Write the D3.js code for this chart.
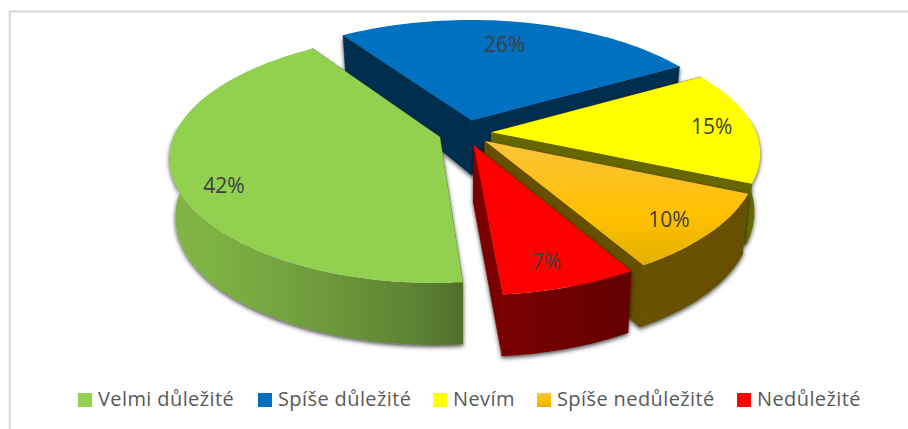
<!DOCTYPE html>
<html><head><meta charset="utf-8">
<script src="https://cdnjs.cloudflare.com/ajax/libs/d3/7.8.5/d3.min.js"></script>
<style>html,body{margin:0;background:#fff}svg{display:block}</style>
</head><body><svg id="c" width="908" height="429"></svg>
<script>
const categories = ["Velmi důležité","Spíše důležité","Nevím","Spíše nedůležité","Nedůležité"];
const values = [42,26,15,10,7];
const topColors = ["#92d050","#0070c0","#ffff00","url(#oTop)","#ff0000"];
const wallColors = ["url(#gWall)","#00365f","#6b6b00","url(#oWall)","url(#rWall)"];
const edgeColors = ["#4f6f2b","#002d4f","#666600","#665000","#7a0000"];
const explode = [0.10,0.113,0.10,0.10,0.105];
const labelT = [0.453,0.48,0.50,0.533,0.56];
const labelR = [0.845,0.75,0.84,0.845,0.84];
const legendX = [78,258,433,537,737];
const drawOrder = [1,2,3,0,4];
const firstAngle = 175;

const svg = d3.select("#c");
const defs = svg.append("defs");
function grad(id,x2,y2,stops){
  const g=defs.append("linearGradient").attr("id",id).attr("x1",0).attr("y1",0).attr("x2",x2).attr("y2",y2);
  stops.forEach(s=>g.append("stop").attr("offset",s[0]).attr("stop-color",s[1]));
}
grad("gWall",1,0,[[0,"#80b545"],[0.12,"#7fb444"],[0.5,"#6f9b3c"],[0.8,"#5f8534"],[1,"#4f6f2b"]]);
grad("oWall",1,0,[[0,"#6b5100"],[1,"#665000"]]);
grad("rWall",1,0,[[0,"#7a0000"],[1,"#620000"]]);
grad("oTop",0,1,[[0,"#fbc33c"],[0.6,"#ffc000"],[1,"#e3b000"]]);
const f=defs.append("filter").attr("id","sh").attr("x","-10%").attr("y","-10%").attr("width","120%").attr("height","125%");
f.append("feDropShadow").attr("dx",0).attr("dy",2).attr("stdDeviation",2).attr("flood-color","#000").attr("flood-opacity",0.7);

// frame: only the top and left edges fall inside the picture
svg.append("rect").attr("x",9.75).attr("y",11.5).attr("width",1000).attr("height",1000).attr("fill","#fff").attr("stroke","#dcdcdc").attr("stroke-width",2.4);

// projection of the tilted pie: ground coordinates X,Y in pie radii, z 0 (top) to 1 (base)
const cx=465, cy=133, Rx=265, Ry=119, k=0.194;
function project(X,Y,z){
  const s=1/(1+k*Y);
  const h=56.4-13.4*Y-7.8*Y*Y;
  const px=cx+Rx*X*(1-0.16*Y+0.02*Y*Y);
  return [cx+(px-cx)*(1-0.02*z), cy-Ry*Y*s-3.5*Y*Y+z*h];
}
const pie=d3.pie().sort(null).startAngle(firstAngle*Math.PI/180).endAngle((firstAngle+360)*Math.PI/180);
const arcs=pie(values);
const line=d3.line();

function slice(i){
  const a=arcs[i], mid=(a.startAngle+a.endAngle)/2, e=explode[i];
  const ox=e*Math.sin(mid), oy=e*Math.cos(mid);
  const pt=(ang,r,z)=>project(ox+r*Math.sin(ang),oy+r*Math.cos(ang),z);
  const angs=d3.range(0,61).map(j=>a.startAngle+(a.endAngle-a.startAngle)*j/60);
  return {a,mid,pt,angs};
}
drawOrder.forEach(i=>{
  const S=slice(i), g=svg.append("g");
  const walls=g.append("g").attr("filter","url(#sh)");
  const apexT=S.pt(0,0,0), apexB=S.pt(0,0,1);
  [S.a.startAngle,S.a.endAngle].forEach(an=>{
    walls.append("path").attr("fill",edgeColors[i]).attr("stroke",edgeColors[i]).attr("stroke-width",0.5)
      .attr("d",line([apexT,S.pt(an,1,0),S.pt(an,1,1),apexB])+"Z");
  });
  const front=S.angs.filter(t=>Math.cos(t)<0.12);
  if(front.length>1){
    walls.append("path").attr("fill",wallColors[i])
      .attr("d",line(front.map(t=>S.pt(t,1,0)).concat(front.slice().reverse().map(t=>S.pt(t,1,1))))+"Z");
  }
  g.append("path").attr("fill",topColors[i])
    .attr("d",line([apexT].concat(S.angs.map(t=>S.pt(t,1,0))))+"Z");
});

// data labels
values.forEach((v,i)=>{
  const S=slice(i), an=S.a.startAngle+(S.a.endAngle-S.a.startAngle)*labelT[i];
  const p=S.pt(an,labelR[i],0);
  svg.append("text").attr("x",p[0]).attr("y",p[1]).attr("dy","0.36em").attr("text-anchor","middle")
    .attr("font-family","'Open Sans',sans-serif").attr("font-size",21).attr("fill","#404040").text(v+"%");
});

// legend
categories.forEach((c,i)=>{
  svg.append("rect").attr("x",legendX[i]).attr("y",393).attr("width",14).attr("height",14)
    .attr("fill",topColors[i]);
  svg.append("text").attr("x",legendX[i]+20).attr("y",406)
    .attr("font-family","'Open Sans',sans-serif").attr("font-size",20).attr("letter-spacing",0.4).attr("fill","#595959").text(c);
});
</script></body></html>
